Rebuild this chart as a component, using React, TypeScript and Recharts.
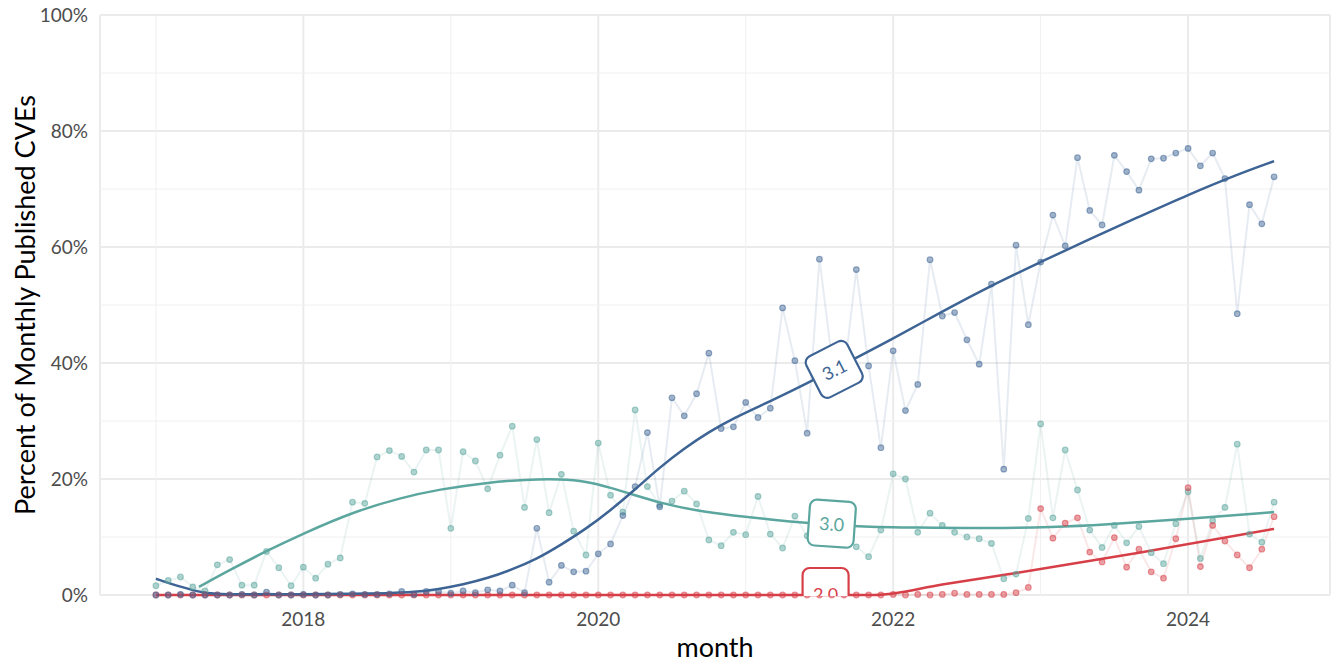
import React from "react";
import {
  ComposedChart,
  Line,
  Scatter,
  XAxis,
  YAxis,
  CartesianGrid,
  ReferenceLine,
} from "recharts";

// monthly share of published CVEs per CVSS version, starting Jan 2017
const startYear = 2017;

const cvss31 = [
  0, 0, 0.1, 0, 0, 0, 0, 0.1, 0, 0.5, 0, 0, 0.1, 0, 0, 0.1, 0.2, 0.1, 0.1, 0.2, 0.6, 0.1, 0.6, 0.6,
  0.3, 0.7, 0.4, 0.9, 0.7, 1.7, 0.4, 11.5, 2.2, 5.1, 4.0, 4.1, 7.1, 8.8, 13.7, 18.7, 28.0, 15.2, 34.0, 30.9,
  34.7, 41.7, 28.7, 29.0, 33.2, 30.6, 32.2, 49.5, 40.4, 27.9, 57.9, 41.0, 38.0, 56.1, 39.5, 25.4, 42.1, 31.8,
  36.3, 57.8, 48.1, 48.7, 44.0, 39.8, 53.6, 21.7, 60.3, 46.6, 57.4, 65.5, 60.2, 75.4, 66.3, 63.8, 75.8, 73.0,
  69.8, 75.2, 75.3, 76.2, 77.0, 74.0, 76.2, 71.8, 48.5, 67.3, 64.0, 72.1,
];

const cvss30 = [
  1.6, 2.5, 3.1, 1.4, 0.7, 5.2, 6.1, 1.7, 1.7, 7.5, 4.7, 1.6, 4.8, 2.9, 5.3, 6.4, 16.0, 15.8, 23.8, 24.9, 23.9, 21.2, 25.0, 25.0,
  11.5, 24.7, 23.1, 18.3, 24.1, 29.1, 15.1, 26.8, 14.2, 20.8, 11.0, 6.9, 26.2, 17.2, 14.3, 31.9, 18.7, 15.5, 16.2, 17.9,
  15.7, 9.5, 8.5, 10.8, 10.4, 17.0, 10.5, 8.1, 13.6, 10.2, 11.5, 12.5, 10.5, 8.3, 6.6, 11.2, 20.9, 20.0,
  10.8, 14.1, 12.0, 10.8, 10.0, 9.7, 8.9, 2.8, 3.6, 13.2, 29.5, 13.3, 25.0, 18.1, 11.2, 8.2, 12.0, 9.0,
  11.8, 7.3, 5.4, 12.3, 17.8, 6.3, 12.8, 15.1, 26.0, 10.5, 9.1, 16.0,
];

const cvss20 = [
  0, 0, 0, 0, 0, 0, 0, 0, 0, 0, 0, 0, 0, 0, 0, 0, 0, 0, 0, 0, 0, 0, 0, 0,
  0, 0, 0, 0, 0, 0, 0, 0, 0, 0, 0, 0, 0, 0, 0, 0, 0, 0, 0, 0,
  0, 0, 0, 0, 0, 0, 0, 0, 0, 0, 0, 0, 0, 0, 0, 0, 0.1, 0,
  0.1, 0, 0.1, 0.3, 0.1, 0.1, 0.1, 0.1, 0.4, 1.3, 14.9, 9.8, 12.4, 13.3, 7.4, 5.7, 9.9, 4.8,
  7.9, 4.0, 2.9, 9.7, 18.5, 4.9, 12.0, 9.3, 6.9, 4.7, 7.9, 13.5,
];

// smoothed trend as [month index, percent]
const trend31 = [
  [0, 2.8], [2, 1.4], [4, 0.3], [5, 0.15], [8, 0.1], [12, 0.15], [16, 0.2], [19, 0.3], [21, 0.5],
  [23, 1.0], [25, 1.8], [27, 2.9], [29, 4.4], [31, 6.2], [33, 8.7], [35, 11.4], [37, 14.6], [39, 18.2],
  [41, 22.0], [43, 25.3], [45, 28.1], [47, 30.5], [50, 33.4], [53, 36.5], [56, 39.8], [60, 44.2],
  [64, 48.9], [68, 53.4], [72, 57.4], [76, 61.4], [80, 65.2], [84, 69.0], [88, 72.5], [91, 74.8],
];

const trend30 = [
  [3.5, 1.4], [6, 4.3], [9, 7.6], [12, 10.6], [16, 14.3], [20, 16.8], [23, 18.2], [27, 19.4], [30, 19.9],
  [33, 20.0], [35, 19.6], [37, 18.5], [39, 17.2], [41, 15.9], [44, 14.5], [47, 13.7], [50, 13.0],
  [53, 12.4], [57, 11.8], [62, 11.6], [68, 11.5], [73, 11.7], [77, 12.1], [84, 13.1], [91, 14.3],
];

const trend20 = [
  [0, 0], [30, 0], [58.5, 0], [64, 1.8], [70, 3.8], [80, 7.3], [91, 11.4],
];

const yearTicks = [12, 36, 60, 84];
const minorYears = [0, 24, 48, 72];
const minorPct = [10, 30, 50, 70, 90];

const BLUE = "#3d6494";
const TEAL = "#5ba69e";
const RED = "#d73f48";

const data = cvss31.map((v, i) => ({
  month: i,
  v31: v,
  v30: cvss30[i],
  v20: cvss20[i],
}));

const toRows = (pts: number[][]) => pts.map(([m, v]) => ({ month: m, t: v }));

const dotStyle = (c: string) => ({
  r: 2.8,
  fill: c,
  fillOpacity: 0.45,
  stroke: c,
  strokeOpacity: 0.55,
  strokeWidth: 1.2,
});

const TagLabel = (props: any) => {
  const { cx, cy, text, color, angle, clip } = props;
  if (cx == null || cy == null) return null;
  const id = "tagclip-" + text.replace(".", "");
  return (
    <g transform={`translate(${cx},${cy}) rotate(${angle})`}>
      {clip && (
        <defs>
          <clipPath id={id}>
            <rect x={-40} y={-45} width={80} height={46} />
          </clipPath>
        </defs>
      )}
      <g clipPath={clip ? `url(#${id})` : undefined}>
        <rect
          x={-23}
          y={clip ? -27 : -23}
          width={46}
          height={46}
          rx={7}
          fill="#fff"
          stroke={color}
          strokeWidth={2.2}
        />
        <text
          x={0}
          y={clip ? -1 : 0}
          textAnchor="middle"
          dominantBaseline="central"
          fill={color}
          fontSize={18}
        >
          {text}
        </text>
      </g>
    </g>
  );
};

const labels = [
  { month: 55.2, y: 38.9, text: "3.1", color: BLUE, angle: -27, clip: false },
  { month: 55.0, y: 12.3, text: "3.0", color: TEAL, angle: 4, clip: false },
  { month: 54.5, y: 0, text: "2.0", color: RED, angle: 0, clip: true },
];

export default function App() {
  return (
    <div style={{ position: "absolute", left: 0, top: 0, fontFamily: "Lato" }}>
      <ComposedChart
        width={1344}
        height={672}
        data={data}
        margin={{ top: 15, right: 14, bottom: 17, left: 10 }}
      >
        <CartesianGrid stroke="#ebebeb" strokeWidth={2} />
        {minorYears.map((m) => (
          <ReferenceLine key={"vx" + m} x={m} stroke="#f0f0f0" strokeWidth={1} />
        ))}
        {minorPct.map((p) => (
          <ReferenceLine key={"hy" + p} y={p} stroke="#f0f0f0" strokeWidth={1} />
        ))}
        <XAxis
          dataKey="month"
          type="number"
          domain={[-4.55, 95.55]}
          ticks={yearTicks}
          tickFormatter={(m: number) => String(startYear + m / 12)}
          allowDataOverflow
          axisLine={false}
          tickLine={false}
          tickMargin={12}
          height={60}
          tick={{ fontSize: 19, fill: "#4d4d4d" }}
          label={{ value: "month", position: "insideBottom", offset: -2, fontSize: 27, fill: "#000" }}
        />
        <YAxis
          type="number"
          domain={[0, 100]}
          ticks={[0, 20, 40, 60, 80, 100]}
          tickFormatter={(v: number) => v + "%"}
          axisLine={false}
          tickLine={false}
          tickMargin={6}
          width={90}
          tick={{ fontSize: 19, fill: "#4d4d4d" }}
          label={{
            value: "Percent of Monthly Published CVEs",
            angle: -90,
            position: "insideLeft",
            offset: 15,
            fontSize: 27,
            fill: "#000",
            style: { textAnchor: "middle" },
          }}
        />

        <Line dataKey="v30" stroke={TEAL} strokeOpacity={0.12} strokeWidth={2} dot={dotStyle(TEAL)} activeDot={false} isAnimationActive={false} />
        <Line dataKey="v20" stroke={RED} strokeOpacity={0.12} strokeWidth={2} dot={dotStyle(RED)} activeDot={false} isAnimationActive={false} />
        <Line dataKey="v31" stroke={BLUE} strokeOpacity={0.12} strokeWidth={2} dot={dotStyle(BLUE)} activeDot={false} isAnimationActive={false} />

        <Line data={toRows(trend20)} dataKey="t" type="monotone" stroke={RED} strokeWidth={2.5} dot={false} activeDot={false} isAnimationActive={false} />
        <Line data={toRows(trend30)} dataKey="t" type="basis" stroke={TEAL} strokeWidth={2.5} dot={false} activeDot={false} isAnimationActive={false} />
        <Line data={toRows(trend31)} dataKey="t" type="basis" stroke={BLUE} strokeWidth={2.5} dot={false} activeDot={false} isAnimationActive={false} />

        <Scatter
          data={labels}
          dataKey="y"
          isAnimationActive={false}
          shape={(p: any) => (
            <TagLabel
              cx={p.cx}
              cy={p.cy}
              text={p.payload.text}
              color={p.payload.color}
              angle={p.payload.angle}
              clip={p.payload.clip}
            />
          )}
        />
      </ComposedChart>
    </div>
  );
}
